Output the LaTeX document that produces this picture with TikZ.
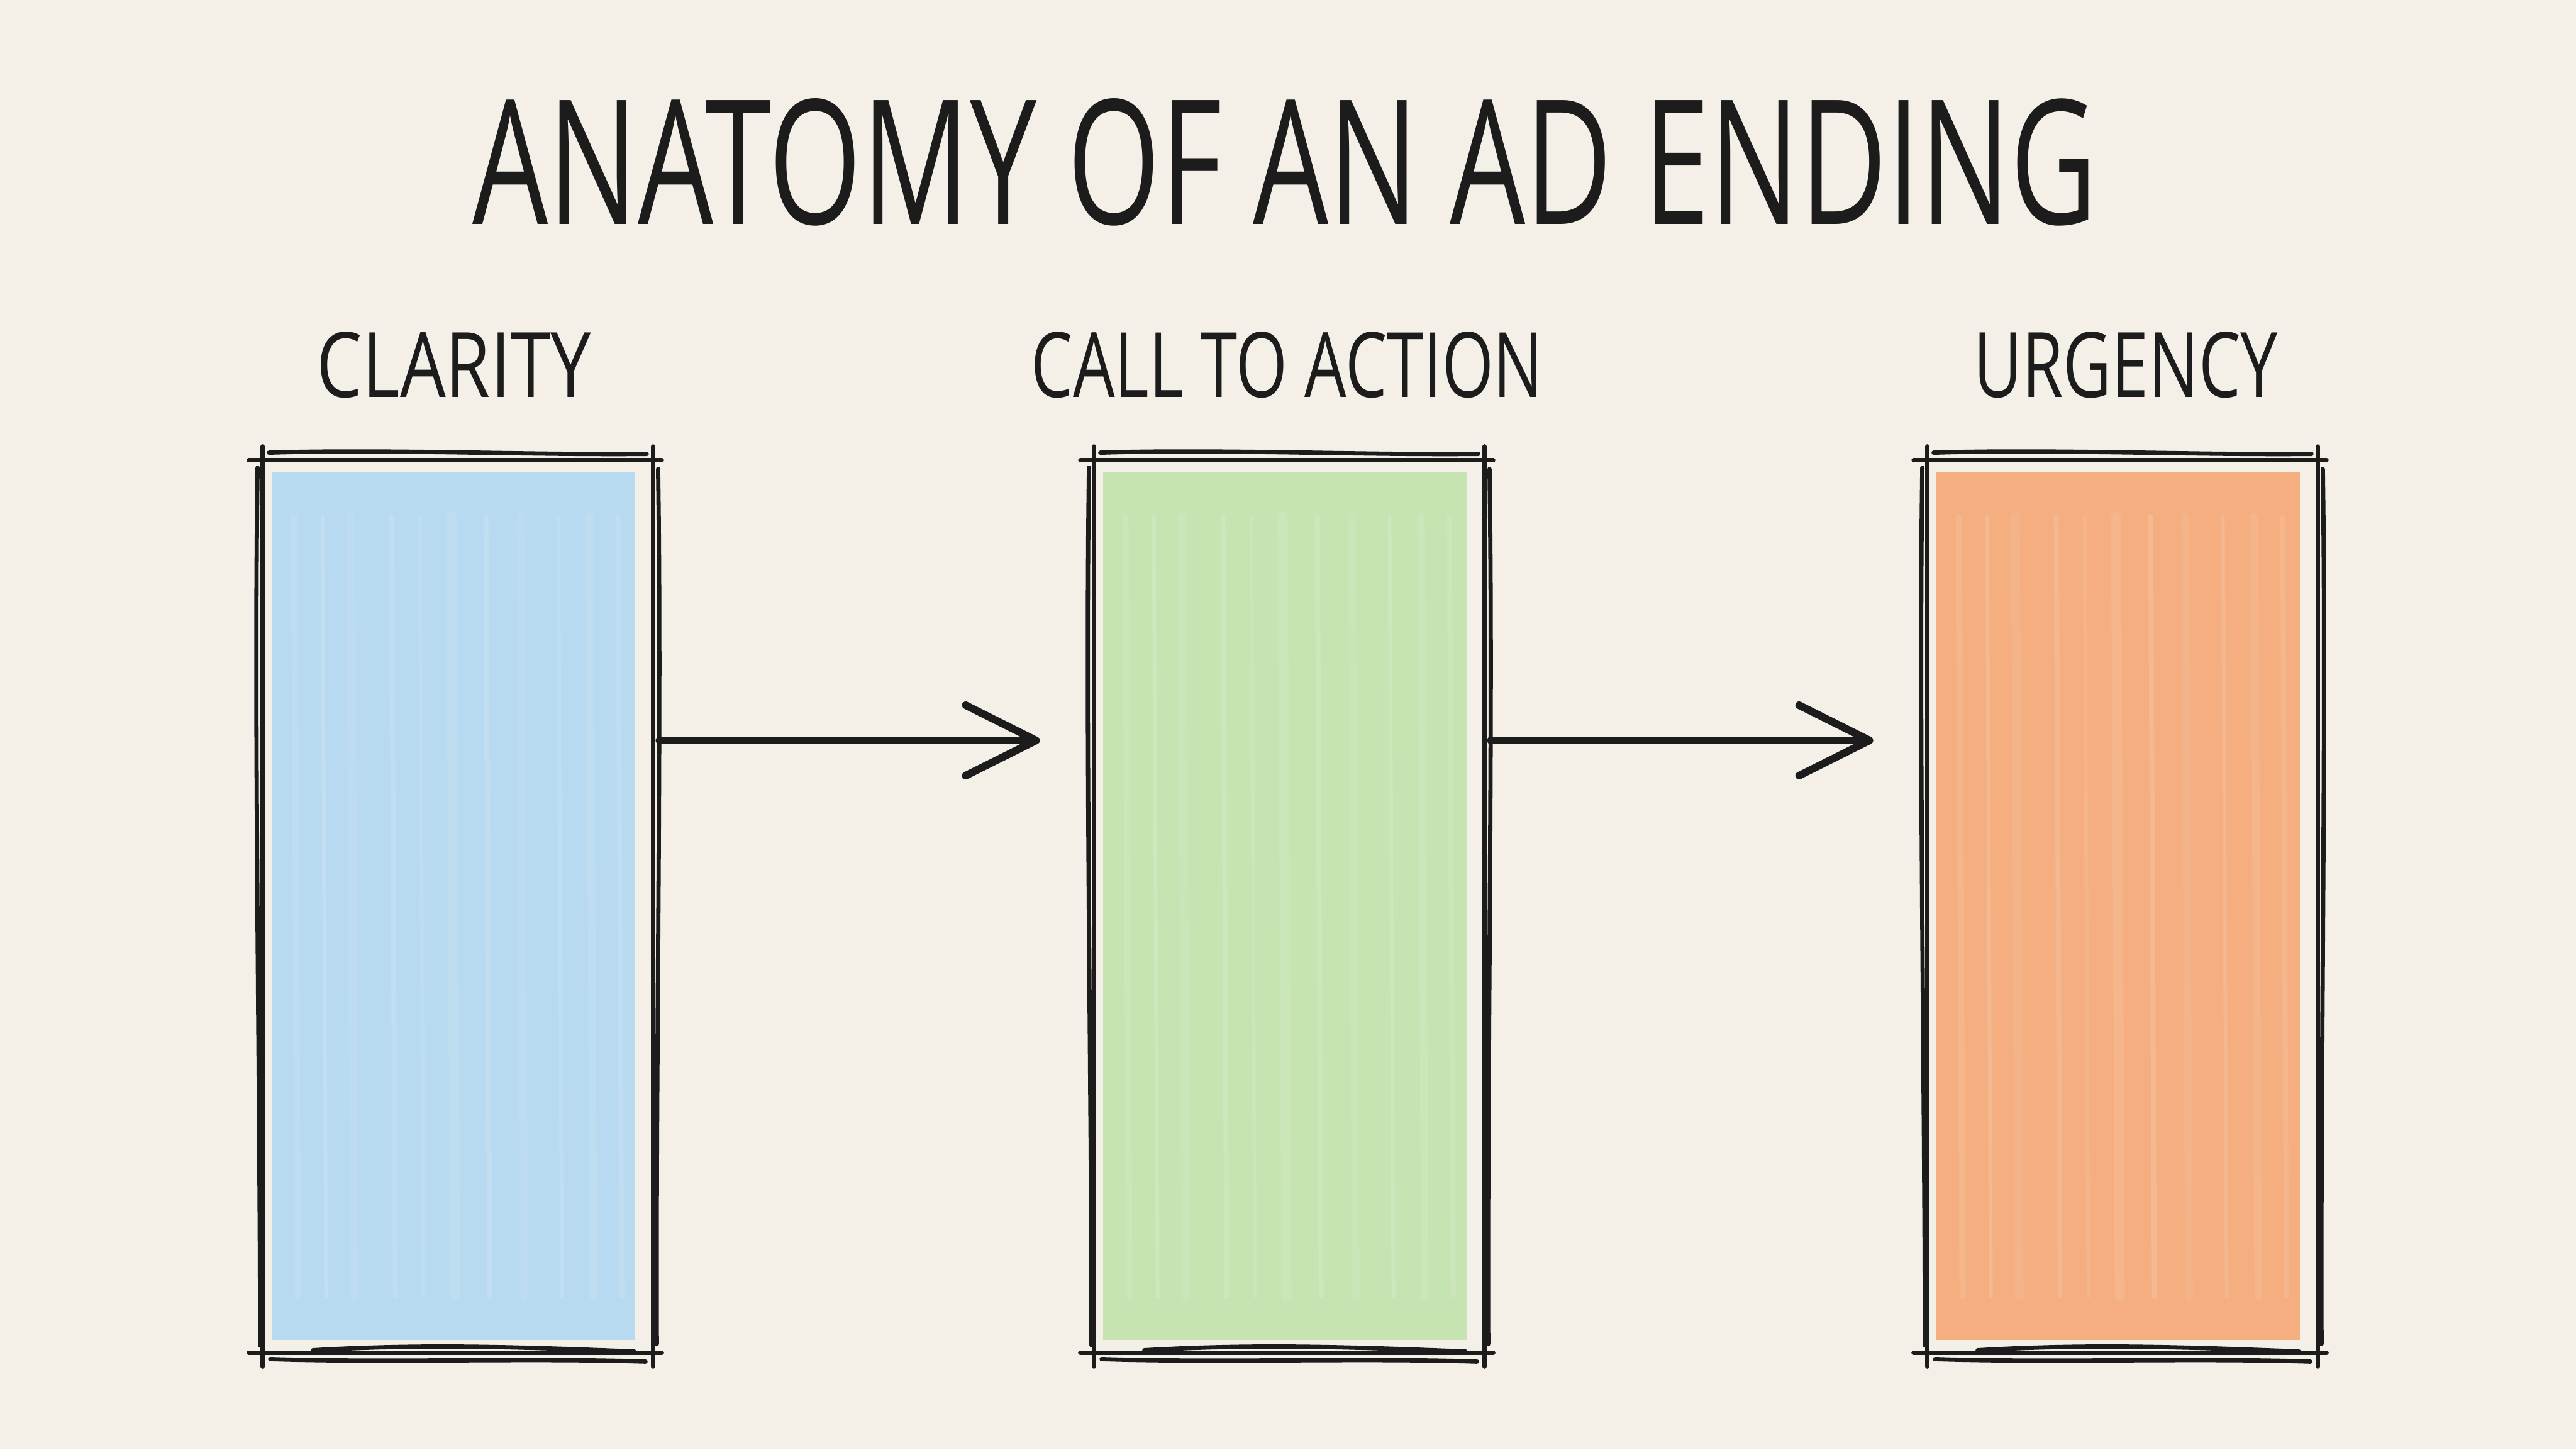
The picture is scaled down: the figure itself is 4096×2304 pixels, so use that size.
\documentclass[tikz,border=0pt]{standalone}
\usepackage{fontspec}
\setmainfont{Open Sans}
\usetikzlibrary{arrows.meta,calc}
\definecolor{paper}{HTML}{F4F0E8}
\definecolor{ink}{HTML}{1C1C1C}
\definecolor{bluefill}{HTML}{B8DAF0}
\definecolor{greenfill}{HTML}{C6E4B2}
\definecolor{orangefill}{HTML}{F4AE80}
\newcommand\skframe[1]{%
  % top
  \draw[sk] ($(#1.north west)+(-22,0)$) -- ($(#1.north east)+(14,0)$);
  \draw[sk] ($(#1.north west)+(10,-12)$) .. controls ($(#1.north)+(-120,-18)$) and ($(#1.north)+(120,-8)$) .. ($(#1.north east)+(-10,-10)$);
  % bottom
  \draw[sk] ($(#1.south west)+(-22,0)$) -- ($(#1.south east)+(14,0)$);
  \draw[sk] ($(#1.south west)+(12,10)$) .. controls ($(#1.south)+(-120,16)$) and ($(#1.south)+(120,8)$) .. ($(#1.south east)+(-12,14)$);
  \draw[sk] ($(#1.south west)+(80,-4)$) .. controls ($(#1.south)+(-60,-14)$) and ($(#1.south)+(80,-10)$) .. ($(#1.south east)+(-30,-2)$);
  % left
  \draw[sk] ($(#1.north west)+(0,-22)$) -- ($(#1.south west)+(0,22)$);
  \draw[sk] ($(#1.north west)+(-8,12)$) .. controls ($(#1.west)+(-14,-300)$) and ($(#1.west)+(-4,300)$) .. ($(#1.south west)+(-4,-12)$);
  % right
  \draw[sk] ($(#1.north east)+(0,-22)$) -- ($(#1.south east)+(0,22)$);
  \draw[sk] ($(#1.north east)+(8,14)$) .. controls ($(#1.east)+(14,-300)$) and ($(#1.east)+(4,300)$) .. ($(#1.south east)+(6,-14)$);
}
\newcommand\crayon[2]{%
  \fill[#2] ($(#1.north west)+(14,18)$) rectangle ($(#1.south east)+(-28,-20)$);
  \foreach \dx/\w/\o in {50/5/0.10,95/3/0.14,140/7/0.08,205/4/0.12,250/3/0.09,300/8/0.10,355/4/0.13,410/6/0.08,470/3/0.12,520/6/0.09,565/4/0.11} {
    \draw[white, opacity=\o, line width=\w pt, line cap=round]
      ($(#1.north west)+(\dx,90)$) -- ($(#1.south west)+(\dx+6,-90)$);
  }
}
\begin{document}
\begin{tikzpicture}[x=0.5pt,y=-0.5pt,
  boxnode/.style={rectangle, inner sep=0, minimum width=310pt, minimum height=709pt},
  sk/.style={draw=ink, line width=3.4pt, line cap=round, line join=round},
  lbl/.style={inner sep=0, anchor=south, text=ink},
  arr/.style={draw=ink, line width=6pt, line cap=round,
     -{Straight Barb[length=56pt, width=56pt, line cap=round, line join=round]}}]
\useasboundingbox (0,0) rectangle (4096,2304);
\fill[paper] (0,0) rectangle (4096,2304);

% title
\node[lbl] (title) at (2043,360) {\resizebox{1291pt}{100pt}{ANATOMY OF AN AD ENDING}};

% boxes
\node[boxnode] (b1) at (728,1441) {};
\node[boxnode] (b2) at (2050,1441) {};
\node[boxnode] (b3) at (3375,1441) {};
\crayon{b1}{bluefill}
\crayon{b2}{greenfill}
\crayon{b3}{orangefill}
\skframe{b1}
\skframe{b2}
\skframe{b3}

% labels
\node[lbl] (l1) at (722,633) {\resizebox{218pt}{52pt}{CLARITY}};
\node[lbl] (l2) at (2047,633) {\resizebox{407pt}{52pt}{CALL TO ACTION}};
\node[lbl] (l3) at (3380,633) {\resizebox{242pt}{52pt}{URGENCY}};

% arrows
\draw[arr] ([xshift=5pt,yshift=132pt]b1.east) -- ([xshift=-43pt,yshift=132pt]b2.west);
\draw[arr] ([xshift=5pt,yshift=132pt]b2.east) -- ([xshift=-43pt,yshift=132pt]b3.west);
\end{tikzpicture}
\end{document}
